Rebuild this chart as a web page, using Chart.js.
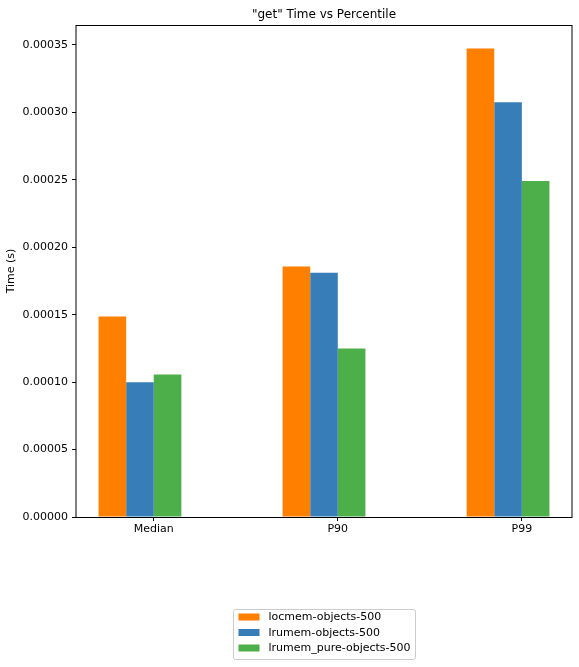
<!DOCTYPE html>
<html>
<head>
<meta charset="utf-8">
<script src="https://cdn.jsdelivr.net/npm/chart.js@4/dist/chart.umd.min.js"></script>
<style>
html,body{margin:0;padding:0;background:#ffffff;}
#wrap{width:579px;height:667px;position:relative;}
</style>
</head>
<body>
<div id="wrap"><canvas id="c" width="579" height="667"></canvas></div>
<script>
const chartTitle = '"get" Time vs Percentile';
const yAxisTitle = 'Time (s)';
const categories = ['Median', 'P90', 'P99'];
const seriesNames = ['locmem-objects-500', 'lrumem-objects-500', 'lrumem_pure-objects-500'];
const locmemValues = [0.0001487, 0.0001857, 0.0003473];
const lrumemValues = [0.0000998, 0.0001810, 0.0003074];
const lrumemPureValues = [0.0001057, 0.0001249, 0.0002490];
const yTickValues = [0, 0.00005, 0.00010, 0.00015, 0.00020, 0.00025, 0.00030, 0.00035];
const seriesColors = ['#ff7f00', '#377eb8', '#4daf4a'];

const FONT = "'DejaVu Sans', 'Liberation Sans', sans-serif";
const TICK_SIZE = 11;
Chart.defaults.font.family = FONT;
Chart.defaults.font.size = TICK_SIZE;
Chart.defaults.color = '#000000';

const allSeries = [locmemValues, lrumemValues, lrumemPureValues];
const datasets = allSeries.map((vals, s) => ({
  label: seriesNames[s],
  data: vals.map((v, i) => ({x: i, y: v})),
  backgroundColor: seriesColors[s],
  borderWidth: 0
}));
// empty slot so the group's centre falls between the 2nd and 3rd bars
datasets.push({
  label: '',
  data: categories.map((c, i) => ({x: i, y: null})),
  backgroundColor: 'rgba(0,0,0,0)',
  borderWidth: 0
});

const mplExtras = {
  id: 'mplExtras',
  afterDraw(chart) {
    const ctx = chart.ctx;
    const a = chart.chartArea;
    ctx.save();
    // spines
    ctx.strokeStyle = '#000000';
    ctx.lineWidth = 1;
    ctx.strokeRect(Math.round(a.left), Math.round(a.top) + 0.5, Math.round(a.right - a.left), Math.round(a.bottom - a.top));
    // title
    ctx.fillStyle = '#000000';
    ctx.font = '12px ' + FONT;
    ctx.textAlign = 'center';
    ctx.textBaseline = 'alphabetic';
    ctx.fillText(chartTitle, (a.left + a.right) / 2, 17.5);
    // legend
    ctx.font = TICK_SIZE + 'px ' + FONT;
    let maxW = 0;
    seriesNames.forEach(n => { maxW = Math.max(maxW, ctx.measureText(n).width); });
    const padL = 5, handleW = 21, gap = 9, padR = 5;
    const boxW = padL + handleW + gap + maxW + padR;
    const boxH = 50;
    const cx = (a.left + a.right) / 2;
    const bx = Math.round(cx - boxW / 2) + 0.5;
    const by = 609.5;
    ctx.fillStyle = 'rgba(255,255,255,0.8)';
    ctx.strokeStyle = '#cccccc';
    ctx.lineWidth = 1;
    ctx.beginPath();
    if (ctx.roundRect) ctx.roundRect(bx, by, boxW, boxH, 2); else ctx.rect(bx, by, boxW, boxH);
    ctx.fill();
    ctx.stroke();
    const rowY = [617, 632.5, 648];
    seriesNames.forEach((n, i) => {
      ctx.fillStyle = seriesColors[i];
      ctx.fillRect(bx + padL, rowY[i] - 3.5, handleW, 7);
      ctx.fillStyle = '#000000';
      ctx.textAlign = 'left';
      ctx.textBaseline = 'middle';
      ctx.fillText(n, bx + padL + handleW + gap, rowY[i] + 0.5);
    });
    ctx.restore();
  }
};

new Chart(document.getElementById('c'), {
  type: 'bar',
  data: { datasets },
  options: {
    responsive: false,
    animation: false,
    devicePixelRatio: 1,
    layout: { padding: { top: 25, right: 7, left: 0, bottom: 0 } },
    categoryPercentage: 0.6,
    barPercentage: 1.0,
    plugins: {
      legend: { display: false },
      title: { display: false },
      tooltip: { enabled: false }
    },
    scales: {
      x: {
        type: 'linear',
        min: -0.4225,
        max: 2.2725,
        offset: false,
        border: { display: false },
        grid: { display: true, offset: false, drawOnChartArea: false, drawTicks: true, tickLength: 4, color: '#000000', lineWidth: 1 },
        ticks: {
          autoSkip: false,
          maxRotation: 0,
          padding: 2,
          font: { size: TICK_SIZE },
          color: '#000000',
          callback: (v, i) => categories[i]
        },
        afterBuildTicks: (scale) => { scale.ticks = categories.map((c, i) => ({ value: i })); },
        afterFit: (scale) => { scale.height = 150; }
      },
      y: {
        type: 'linear',
        min: 0,
        max: 0.0003647,
        border: { display: false },
        grid: { display: true, offset: false, drawOnChartArea: false, drawTicks: true, tickLength: 4, color: '#000000', lineWidth: 1 },
        ticks: {
          padding: 4,
          font: { size: TICK_SIZE },
          color: '#000000',
          callback: (v) => Number(v).toFixed(5)
        },
        afterBuildTicks: (scale) => { scale.ticks = yTickValues.map(v => ({ value: v })); },
        afterFit: (scale) => { scale.width = 76; },
        title: { display: true, text: yAxisTitle, font: { size: TICK_SIZE }, color: '#000000', padding: { top: 5, bottom: 0 } }
      }
    }
  },
  plugins: [mplExtras]
});
</script>
</body>
</html>
